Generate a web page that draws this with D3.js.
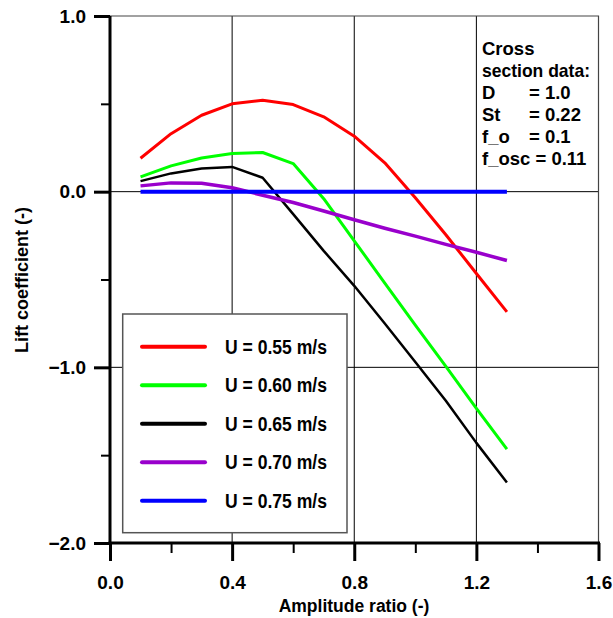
<!DOCTYPE html>
<html>
<head>
<meta charset="utf-8">
<script src="https://cdn.jsdelivr.net/npm/d3@7"></script>
<style>
  html, body { margin: 0; padding: 0; background: #fff; }
  text { font-family: "Liberation Sans", Arial, sans-serif; font-weight: bold; fill: #000; }
</style>
</head>
<body>
<svg id="chart" width="613" height="618"></svg>
<script>
// ---- data ----
const amplitudeRatio = [0.1, 0.2, 0.3, 0.4, 0.5, 0.6, 0.7, 0.8, 0.9, 1.0, 1.1, 1.2, 1.3];
const seriesNames = ["U = 0.55 m/s", "U = 0.60 m/s", "U = 0.65 m/s", "U = 0.70 m/s", "U = 0.75 m/s"];
const liftU055 = [0.19, 0.33, 0.435, 0.50, 0.52, 0.496, 0.426, 0.316, 0.164, -0.035, -0.245, -0.466, -0.684];
const liftU060 = [0.084, 0.147, 0.192, 0.217, 0.223, 0.16, -0.04, -0.28, -0.52, -0.76, -0.995, -1.234, -1.466];
const liftU065 = [0.06, 0.104, 0.132, 0.141, 0.079, -0.128, -0.337, -0.536, -0.75, -0.97, -1.19, -1.43, -1.655];
const liftU070 = [0.033, 0.05, 0.048, 0.022, -0.02, -0.062, -0.11, -0.16, -0.208, -0.253, -0.30, -0.345, -0.392];
const liftU075 = [0, 0, 0, 0, 0, 0, 0, 0, 0, 0, 0, 0, 0];
const xTicks = [0.0, 0.4, 0.8, 1.2, 1.6];
const xMinorTicks = [0.2, 0.6, 1.0, 1.4];
const yTicks = [1.0, 0.0, -1.0, -2.0];
const yMinorTicks = [0.5, -0.5, -1.5];
const infoLabels = ["D", "St", "f_o"];
const infoValues = ["= 1.0", "= 0.22", "= 0.1"];

const seriesValues = [liftU055, liftU060, liftU065, liftU070, liftU075];
const colors = ["#ff0000", "#00ff00", "#000000", "#9900cc", "#0000ff"];
const widths = [3, 3, 2.5, 3.5, 4];

// ---- layout ----
const svg = d3.select("#chart");
const x = d3.scaleLinear().domain([0, 1.6]).range([110, 598.5]);
const y = d3.scaleLinear().domain([-2, 1]).range([543, 16]);

// grid
const grid = svg.append("g").attr("stroke", "#000").attr("stroke-width", 1).attr("fill", "none");
[0.4, 0.8, 1.2].forEach(v => grid.append("line")
  .attr("x1", x(v)).attr("x2", x(v)).attr("y1", y(1)).attr("y2", y(-2)));
[0, -1].forEach(v => grid.append("line")
  .attr("x1", x(0)).attr("x2", x(1.6)).attr("y1", y(v)).attr("y2", y(v)));
// frame top/right
svg.append("path")
  .attr("d", `M${x(0)},${y(1)}H${x(1.6)}V${y(-2)}`)
  .attr("fill", "none").attr("stroke", "#444").attr("stroke-width", 1.2);

// series lines
const line = d3.line().x((d, i) => x(amplitudeRatio[i])).y(d => y(d));
seriesValues.forEach((vals, k) => {
  svg.append("path").datum(vals)
    .attr("d", line)
    .attr("fill", "none")
    .attr("stroke", colors[k])
    .attr("stroke-width", widths[k])
    .attr("stroke-linejoin", "round");
});

// axes
const xAxis = d3.axisBottom(x).tickValues(xTicks).tickSize(18).tickFormat(d3.format(".1f"));
const gx = svg.append("g").attr("transform", `translate(0,${y(-2)})`).call(xAxis);
gx.select(".domain").attr("stroke-width", 3).attr("d", `M${x(0) - 1.5},0H${x(1.6) + 1.5}`);
gx.selectAll(".tick line").attr("stroke-width", 3);
gx.selectAll(".tick text").attr("y", 33).attr("dy", "0.71em").style("font-size", "19px")
  .style("font-family", "'Liberation Sans', Arial, sans-serif");
gx.attr("font-size", null).attr("font-family", null);
const xMinor = d3.axisBottom(x).tickValues(xMinorTicks).tickSize(10).tickFormat("");
const gxm = svg.append("g").attr("transform", `translate(0,${y(-2)})`).call(xMinor);
gxm.select(".domain").remove();
gxm.selectAll(".tick line").attr("stroke-width", 2);

const yAxis = d3.axisLeft(y).tickValues(yTicks).tickSize(16).tickFormat(d3.format(".1f"));
const gy = svg.append("g").attr("transform", `translate(${x(0)},0)`).call(yAxis);
gy.select(".domain").attr("stroke-width", 3).attr("d", `M0,${y(1)}V${y(-2) + 1.5}`);
gy.selectAll(".tick line").attr("stroke-width", 3);
gy.selectAll(".tick text").attr("x", -24).style("font-size", "19px")
  .style("font-family", "'Liberation Sans', Arial, sans-serif");
gy.attr("font-size", null).attr("font-family", null);
const yMinor = d3.axisLeft(y).tickValues(yMinorTicks).tickSize(9).tickFormat("");
const gym = svg.append("g").attr("transform", `translate(${x(0)},0)`).call(yMinor);
gym.select(".domain").remove();
gym.selectAll(".tick line").attr("stroke-width", 2);

// axis titles
svg.append("text").attr("x", 354).attr("y", 612).attr("text-anchor", "middle")
  .style("font-size", "17.5px").text("Amplitude ratio (-)");
svg.append("text").attr("transform", "translate(28,280) rotate(-90)").attr("text-anchor", "middle")
  .style("font-size", "18px").text("Lift coefficient (-)");

// legend
const lg = svg.append("g");
lg.append("rect").attr("x", 122.7).attr("y", 314).attr("width", 224.3).attr("height", 218.7)
  .attr("fill", "#fff").attr("stroke", "#555").attr("stroke-width", 1.5);
seriesNames.forEach((name, k) => {
  const yy = 346.7 + k * 38.5;
  lg.append("line").attr("x1", 142).attr("x2", 205).attr("y1", yy).attr("y2", yy)
    .attr("stroke", colors[k]).attr("stroke-width", 4).attr("stroke-linecap", "round");
  lg.append("text").attr("x", 225).attr("y", yy + 7)
    .attr("textLength", 102).attr("lengthAdjust", "spacingAndGlyphs")
    .style("font-size", "19.5px").text(name);
});

// info text
const info = svg.append("g").style("font-size", "18.5px");
info.append("text").attr("x", 482).attr("y", 55).text("Cross");
info.append("text").attr("x", 482).attr("y", 77).attr("textLength", 108).attr("lengthAdjust", "spacingAndGlyphs").text("section data:");
infoLabels.forEach((lab, i) => {
  info.append("text").attr("x", 482).attr("y", 99 + i * 22).text(lab);
  info.append("text").attr("x", 529).attr("y", 99 + i * 22).text(infoValues[i]);
});
info.append("text").attr("x", 482).attr("y", 165).text("f_osc = 0.11");
</script>
</body>
</html>
